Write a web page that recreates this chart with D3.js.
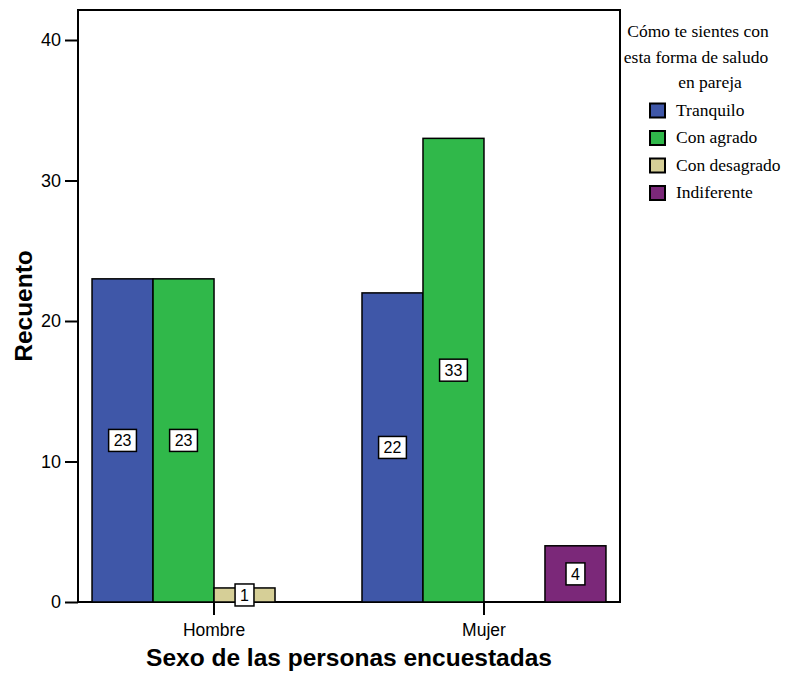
<!DOCTYPE html>
<html><head><meta charset="utf-8">
<script src="https://cdn.jsdelivr.net/npm/d3@7"></script>
<style>body{margin:0;background:#fff}</style>
</head><body>
<svg id="c" width="786" height="673"></svg>
<script>
const groups = ["Hombre", "Mujer"];
const series = ["Tranquilo", "Con agrado", "Con desagrado", "Indiferente"];
const colors = ["#3f57a8", "#30b84a", "#d6cf97", "#7b2879"];
const values = {
  "Hombre": [23, 23, 1, null],
  "Mujer":  [22, 33, null, 4]
};
const yTicks = [0, 10, 20, 30, 40];
const legendTitle = ["Cómo te sientes con", "esta forma de saludo", "en pareja"];

const svg = d3.select("#c");
const L = 78, R = 620, T = 10, B = 602;
const sans = "Liberation Sans, Arial, sans-serif";

const y = d3.scaleLinear().domain([0, 40]).range([B, 40]);
const x0 = d3.scaleBand().domain(groups).range([L, R]).paddingInner(26/270).paddingOuter(0.052);
const x1 = d3.scaleBand().domain(series).range([0, x0.bandwidth()]);

// frame
svg.append("rect").attr("x", L).attr("y", T).attr("width", R - L).attr("height", B - T)
  .attr("fill", "none").attr("stroke", "#000").attr("stroke-width", 2);

// bars
const data = [];
groups.forEach(g => values[g].forEach((v, i) => { if (v != null) data.push({g, s: series[i], v, c: colors[i]}); }));

svg.selectAll("rect.bar").data(data).enter().append("rect")
  .attr("class", "bar")
  .attr("x", d => x0(d.g) + x1(d.s))
  .attr("y", d => y(d.v))
  .attr("width", x1.bandwidth())
  .attr("height", d => y(0) - y(d.v))
  .attr("fill", d => d.c).attr("stroke", "#000").attr("stroke-width", 1.5);

// value labels
const lab = svg.selectAll("g.lab").data(data).enter().append("g").attr("class", "lab")
  .attr("transform", d => `translate(${x0(d.g) + x1(d.s) + x1.bandwidth()/2},${y(d.v/2)})`);
lab.each(function(d){
  const g = d3.select(this);
  const t = g.append("text").text(d.v).attr("text-anchor", "middle").attr("dy", "0.36em")
    .attr("font-family", sans).attr("font-size", 16);
  const w = t.node().getComputedTextLength() + 10;
  g.insert("rect", "text").attr("x", -w/2).attr("y", -11).attr("width", w).attr("height", 22)
    .attr("fill", "#fff").attr("stroke", "#000").attr("stroke-width", 1.5);
});

// y axis
const ya = svg.append("g").attr("transform", `translate(${L},0)`)
  .call(d3.axisLeft(y).tickValues(yTicks).tickSize(13).tickPadding(4));
ya.select(".domain").remove();
ya.selectAll("line").attr("stroke-width", 2);
ya.selectAll("text").attr("font-family", sans).attr("font-size", 18).attr("fill", "#000");

// x axis
const xa = svg.append("g").attr("transform", `translate(0,${B})`)
  .call(d3.axisBottom(x0).tickSize(13).tickPadding(9));
xa.select(".domain").remove();
xa.selectAll("line").attr("stroke-width", 2);
xa.selectAll("text").attr("font-family", sans).attr("font-size", 17.5).attr("fill", "#000");

// titles
svg.append("text").attr("x", (L + R)/2).attr("y", 666).attr("text-anchor", "middle")
  .attr("font-family", sans).attr("font-weight", "bold").attr("font-size", 24.5)
  .text("Sexo de las personas encuestadas");
svg.append("text").attr("transform", `translate(32,${(T + B)/2}) rotate(-90)`).attr("text-anchor", "middle")
  .attr("font-family", sans).attr("font-weight", "bold").attr("font-size", 24.5)
  .text("Recuento");

// legend
const lt = svg.append("g").attr("font-family", "Liberation Serif, Times New Roman, serif").attr("font-size", 17.5);
const ltx = [698, 696, 710];
legendTitle.forEach((s, i) => lt.append("text").attr("x", ltx[i]).attr("y", 37 + i*25.5).attr("text-anchor", "middle").text(s));
series.forEach((s, i) => {
  const gy = 103.5 + i*27.5;
  lt.append("rect").attr("x", 650).attr("y", gy).attr("width", 15).attr("height", 14)
    .attr("fill", colors[i]).attr("stroke", "#000").attr("stroke-width", 2);
  lt.append("text").attr("x", 676).attr("y", gy + 12).text(s);
});
</script>
</body></html>
